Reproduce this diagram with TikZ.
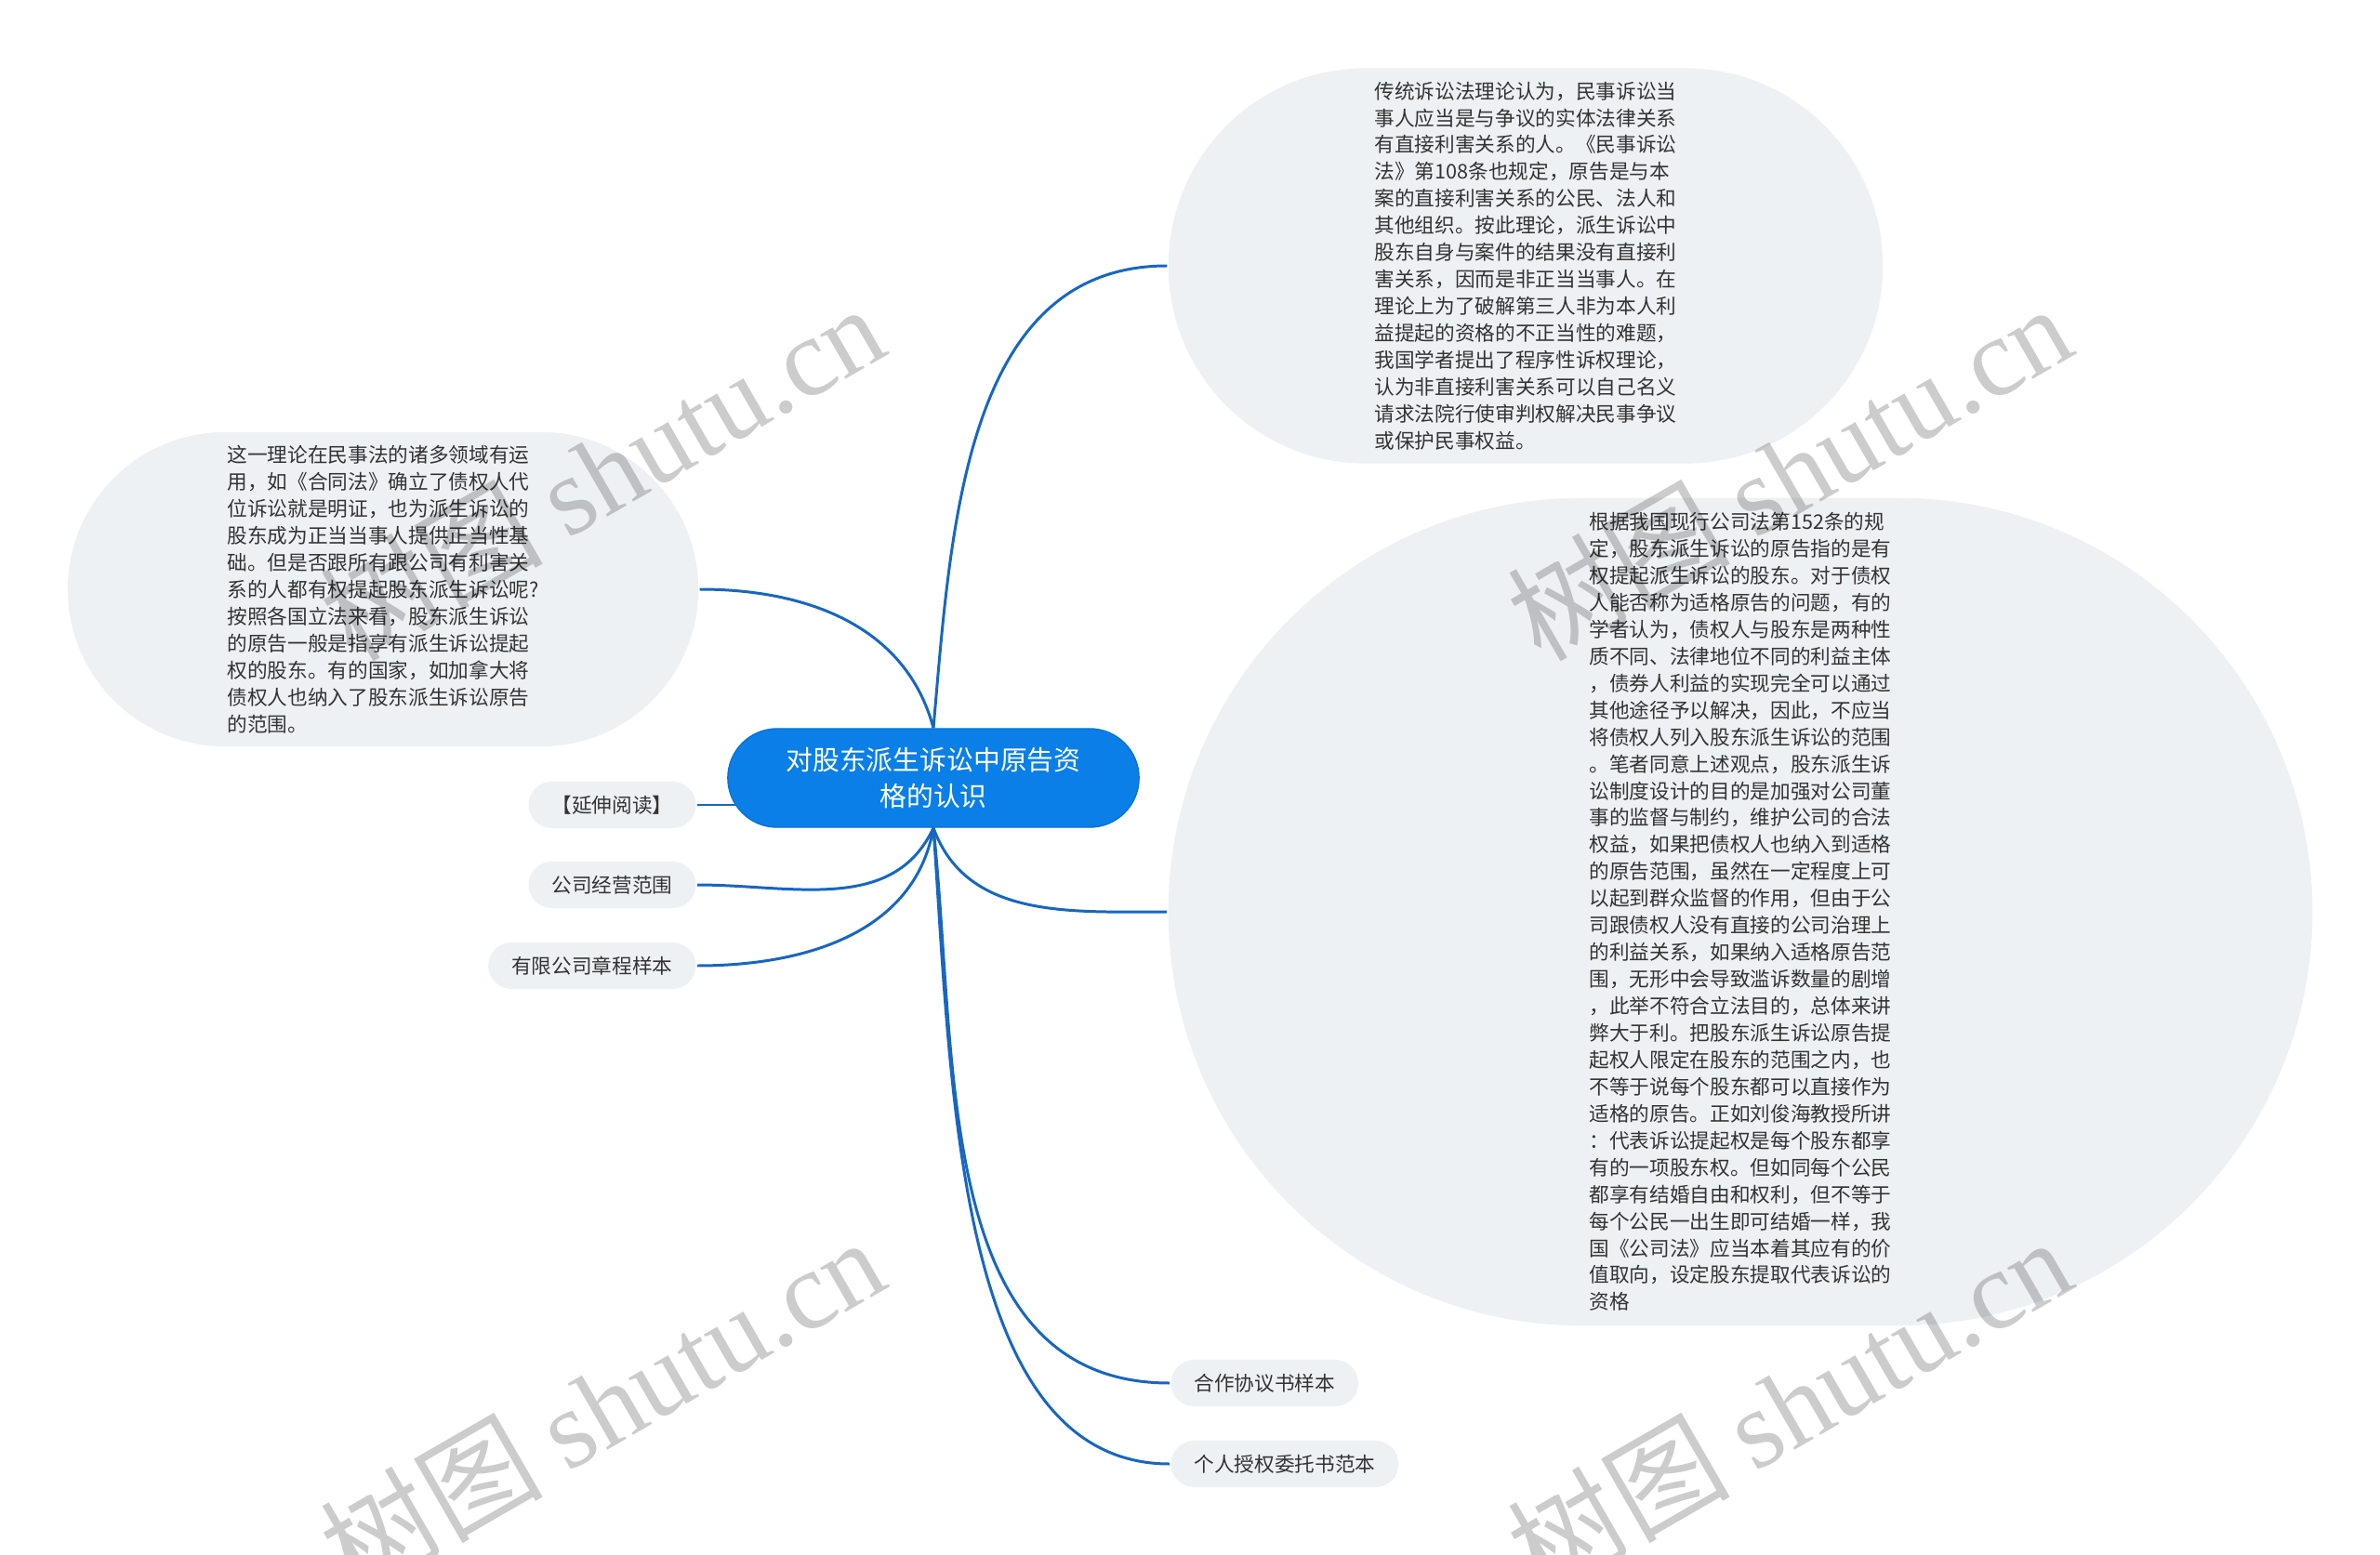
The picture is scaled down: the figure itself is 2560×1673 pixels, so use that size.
\documentclass[tikz,border=0pt]{standalone}
\usepackage{fontspec}
\setmainfont{Noto Sans CJK SC}
\newfontfamily\wmfont{Liberation Serif}
\definecolor{rootblue}{HTML}{0B7FE8}
\definecolor{linkblue}{HTML}{1766C2}
\definecolor{bubble}{HTML}{EEF1F4}
\definecolor{ink}{HTML}{333333}

\begin{document}
\begin{tikzpicture}[x=0.01cm,y=0.01cm,line width=0.85pt,
 root/.style={fill=rootblue,draw=rootblue!90!black,line width=0.4pt,text=white,align=center,
  minimum width=4.42cm,minimum height=1.06cm,rounded corners=0.53cm,inner sep=0pt,
  font=\fontsize{8.2pt}{10.9pt}\selectfont},
 leaf/.style={fill=bubble,text=ink,minimum height=0.5cm,inner xsep=0.25cm,inner ysep=0pt,
  rounded corners=0.25cm,font=\fontsize{6.16pt}{8.23pt}\selectfont},
 note/.style={fill=bubble,text=ink,align=left,inner sep=0pt,rounded corners=#1,
  font=\fontsize{6.16pt}{8.23pt}\selectfont},
 link/.style={draw=linkblue},
 wmark/.style={text=black,opacity=0.2,rotate=30,inner sep=0pt,
  font=\fontsize{34pt}{34pt}\selectfont}]
\useasboundingbox[fill=white] (0,0) rectangle (2560,-1673);
% centre and branches
\node[root] (root) at (1004,-837) {对股东派生诉讼中原告资\\格的认识};
\node[note=2.12cm,minimum width=7.68cm,minimum height=4.25cm] (trad) at (1641,-286)
 {传统诉讼法理论认为，民事诉讼当\\事人应当是与争议的实体法律关系\\有直接利害关系的人。《民事诉讼\\法》第108条也规定，原告是与本\\案的直接利害关系的公民、法人和\\其他组织。按此理论，派生诉讼中\\股东自身与案件的结果没有直接利\\害关系，因而是非正当当事人。在\\理论上为了破解第三人非为本人利\\益提起的资格的不正当性的难题，\\我国学者提出了程序性诉权理论，\\认为非直接利害关系可以自己名义\\请求法院行使审判权解决民事争议\\或保护民事权益。};
\node[note=1.69cm,minimum width=6.78cm,minimum height=3.38cm] (civil) at (412,-634)
 {这一理论在民事法的诸多领域有运\\用，如《合同法》确立了债权人代\\位诉讼就是明证，也为派生诉讼的\\股东成为正当当事人提供正当性基\\础。但是否跟所有跟公司有利害关\\系的人都有权提起股东派生诉讼呢?\\按照各国立法来看，股东派生诉讼\\的原告一般是指享有派生诉讼提起\\权的股东。有的国家，如加拿大将\\债权人也纳入了股东派生诉讼原告\\的范围。};
\node[note=4.45cm,minimum width=12.3cm,minimum height=8.9cm] (plaintiff) at (1872,-981)
 {根据我国现行公司法第152条的规\\定，股东派生诉讼的原告指的是有\\权提起派生诉讼的股东。对于债权\\人能否称为适格原告的问题，有的\\学者认为，债权人与股东是两种性\\质不同、法律地位不同的利益主体\\，债券人利益的实现完全可以通过\\其他途径予以解决，因此，不应当\\将债权人列入股东派生诉讼的范围\\。笔者同意上述观点，股东派生诉\\讼制度设计的目的是加强对公司董\\事的监督与制约，维护公司的合法\\权益，如果把债权人也纳入到适格\\的原告范围，虽然在一定程度上可\\以起到群众监督的作用，但由于公\\司跟债权人没有直接的公司治理上\\的利益关系，如果纳入适格原告范\\围，无形中会导致滥诉数量的剧增\\，此举不符合立法目的，总体来讲\\弊大于利。把股东派生诉讼原告提\\起权人限定在股东的范围之内，也\\不等于说每个股东都可以直接作为\\适格的原告。正如刘俊海教授所讲\\：代表诉讼提起权是每个股东都享\\有的一项股东权。但如同每个公民\\都享有结婚自由和权利，但不等于\\每个公民一出生即可结婚一样，我\\国《公司法》应当本着其应有的价\\值取向，设定股东提取代表诉讼的\\资格};
\node[leaf,anchor=east] (ext) at (750,-866) {【延伸阅读】};
\node[leaf,anchor=east] (bizscope) at (750,-952) {公司经营范围};
\node[leaf,anchor=east] (charter) at (750,-1039) {有限公司章程样本};
\node[leaf,anchor=west] (coop) at (1258,-1488) {合作协议书样本};
\node[leaf,anchor=west] (proxy) at (1258,-1575) {个人授权委托书范本};
% connectors
\draw[link] (root.north) to[out=85,in=180] (trad.west);
\draw[link] (root.north) to[out=105,in=0] (civil.east);
\draw[link] (ext.east) -- ([xshift=0.09cm]ext.east -| root.west);
\draw[link] (root.south) to[out=-115,in=0] (bizscope.east);
\draw[link] (root.south) to[out=-100,in=0] (charter.east);
\draw[link] (root.south) to[out=-70,in=180] (plaintiff.west);
\draw[link] (root.south) to[out=-84,in=180] (coop.west);
\draw[link] (root.south) to[out=-86,in=180,in looseness=0.8] (proxy.west);
% watermarks
\node[wmark] (wm1) at (647,-507) {树图 \wmfont shutu.cn};
\node[wmark] (wm2) at (1924,-507) {树图 \wmfont shutu.cn};
\node[wmark] (wm3) at (647,-1511) {树图 \wmfont shutu.cn};
\node[wmark] (wm4) at (1924,-1511) {树图 \wmfont shutu.cn};
\end{tikzpicture}
\end{document}
